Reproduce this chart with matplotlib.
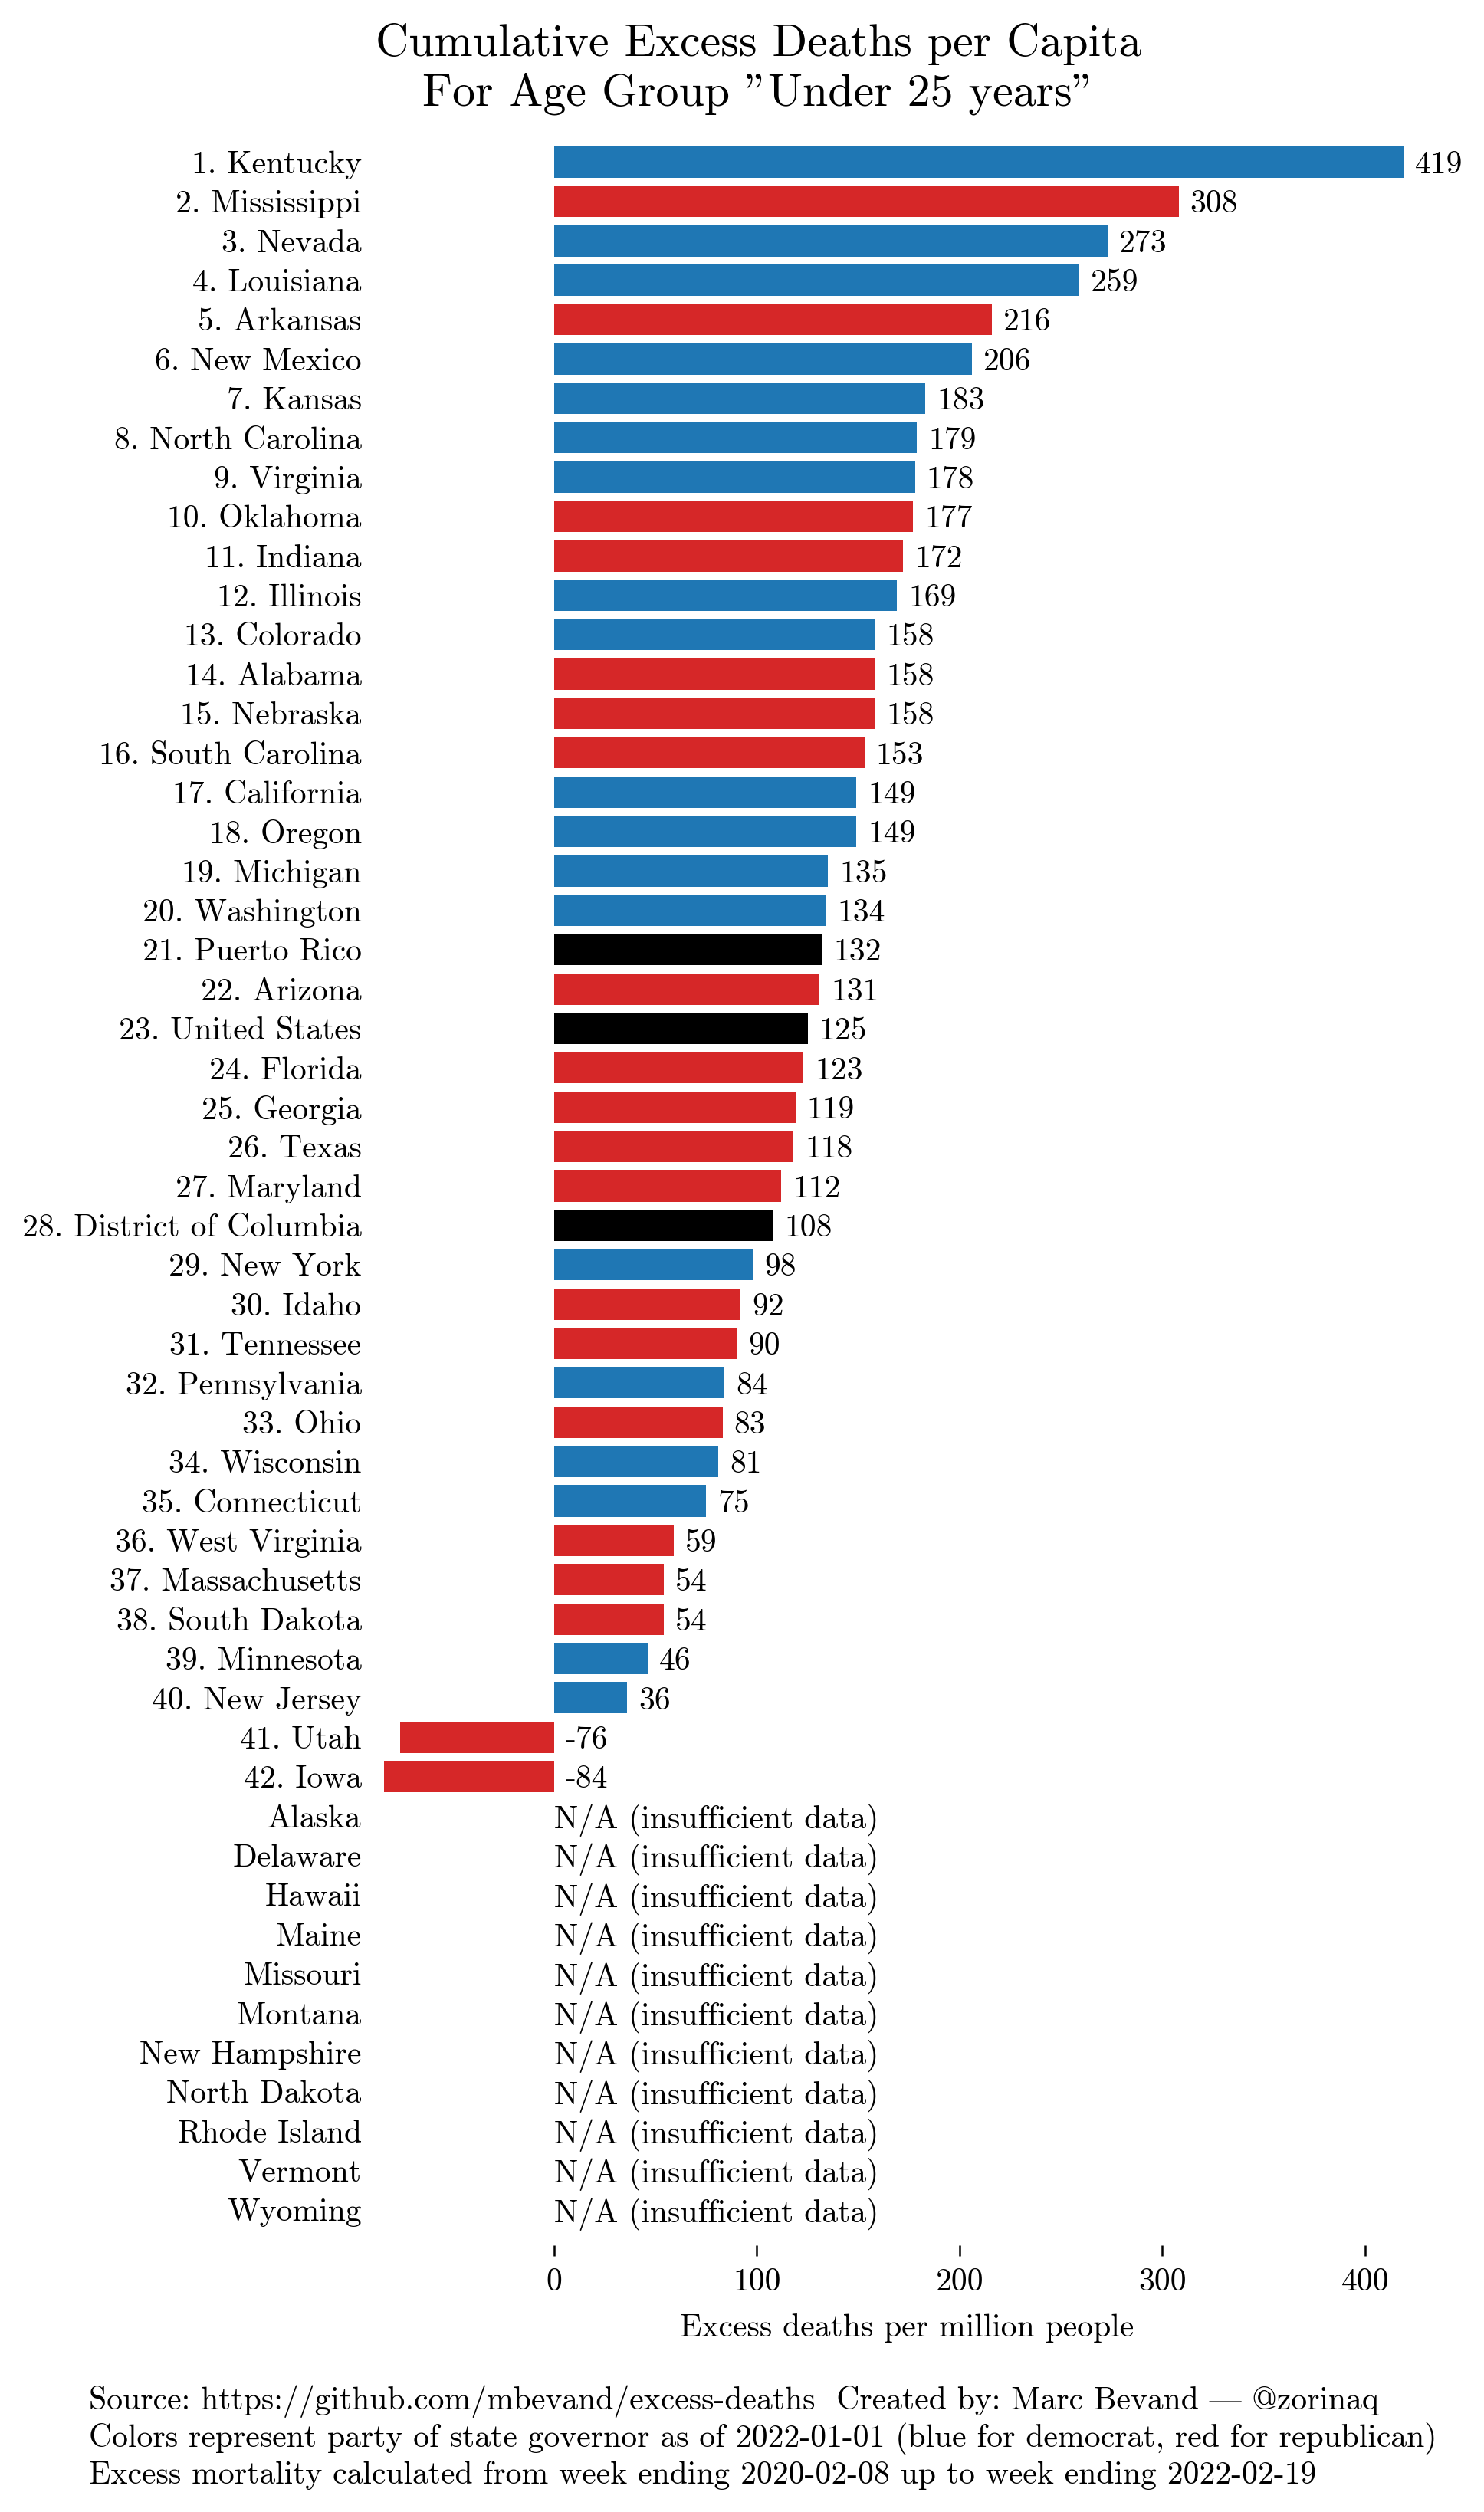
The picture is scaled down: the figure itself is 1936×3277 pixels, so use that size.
import matplotlib
matplotlib.use("Agg")
import matplotlib.pyplot as plt

plt.rcParams['font.family'] = ['cmr10', 'Liberation Serif', 'DejaVu Serif']
plt.rcParams['mathtext.fontset'] = 'cm'
plt.rcParams['axes.unicode_minus'] = False
plt.rcParams['axes.formatter.use_mathtext'] = True

states = ["Kentucky", "Mississippi", "Nevada", "Louisiana", "Arkansas", "New Mexico",
          "Kansas", "North Carolina", "Virginia", "Oklahoma", "Indiana", "Illinois",
          "Colorado", "Alabama", "Nebraska", "South Carolina", "California", "Oregon",
          "Michigan", "Washington", "Puerto Rico", "Arizona", "United States", "Florida",
          "Georgia", "Texas", "Maryland", "District of Columbia", "New York", "Idaho",
          "Tennessee", "Pennsylvania", "Ohio", "Wisconsin", "Connecticut", "West Virginia",
          "Massachusetts", "South Dakota", "Minnesota", "New Jersey", "Utah", "Iowa"]
values = [419, 308, 273, 259, 216, 206, 183, 179, 178, 177, 172, 169, 158, 158, 158,
          153, 149, 149, 135, 134, 132, 131, 125, 123, 119, 118, 112, 108, 98, 92, 90,
          84, 83, 81, 75, 59, 54, 54, 46, 36, -76, -84]
party = ["D", "R", "D", "D", "R", "D", "D", "D", "D", "R", "R", "D", "D", "R", "R",
         "R", "D", "D", "D", "D", "O", "R", "O", "R", "R", "R", "R", "O", "D", "R", "R",
         "D", "R", "D", "D", "R", "R", "R", "D", "D", "R", "R"]
na_states = ["Alaska", "Delaware", "Hawaii", "Maine", "Missouri", "Montana",
             "New Hampshire", "North Dakota", "Rhode Island", "Vermont", "Wyoming"]
xticks = [0, 100, 200, 300, 400]

party_colors = {"D": "#1f77b4", "R": "#d62728", "O": "black"}

W, H = 1936, 3277
dpi = 200
fig = plt.figure(figsize=(W / dpi, H / dpi), dpi=dpi)

x0, x1 = -92.4, 440
ax = fig.add_axes([478.6 / W, (H - 2929) / H, (1886.8 - 478.6) / W, (2929 - 165) / H])

n = len(states) + len(na_states)
ypos = list(range(len(states)))
colors = [party_colors[p] for p in party]
ax.barh(ypos, values, height=0.8, color=colors)

fs = 15.0
for i, v in enumerate(values):
    ax.annotate(str(v), (max(v, 0), i), xytext=(5.4, 0), textcoords='offset points',
                va='center_baseline', ha='left', fontsize=fs)
for j, s in enumerate(na_states):
    ax.text(0, len(states) + j, "N/A (insufficient data)", va='center_baseline', ha='left', fontsize=fs)

labels = [f"{i + 1}. {s}" for i, s in enumerate(states)] + na_states
ax.set_yticks(range(n))
ax.set_yticklabels(labels, fontsize=fs)
ax.tick_params(axis='y', length=0, pad=2.5)
ax.set_xticks(xticks)
ax.set_xticklabels([str(t) for t in xticks], fontsize=fs)
ax.tick_params(axis='x', length=5.2, width=0.9, pad=5.5)
ax.set_xlim(x0, x1)
ax.set_ylim(n - 1 + 0.9, -0.9)
for sp in ax.spines.values():
    sp.set_visible(False)
ax.set_xlabel("Excess deaths per million people", fontsize=fs, labelpad=8)

tx = 990 / W
fig.text(tx, 1 - 73 / H, "Cumulative Excess Deaths per Capita", ha='center', va='baseline', fontsize=21.6)
fig.text(tx, 1 - 137 / H, "For Age Group \"Under 25 years\"", ha='center', va='baseline', fontsize=21.6)

footer = ["Source: https://github.com/mbevand/excess-deaths  Created by: Marc Bevand \u2014 @zorinaq",
          "Colors represent party of state governor as of 2022-01-01 (blue for democrat, red for republican)",
          "Excess mortality calculated from week ending 2020-02-08 up to week ending 2022-02-19"]
baselines = [3143, 3192, 3240]
for line, b in zip(footer, baselines):
    fig.text(116 / W, 1 - b / H, line, ha='left', va='baseline', fontsize=fs)

fig.savefig("out.png", dpi=dpi)
